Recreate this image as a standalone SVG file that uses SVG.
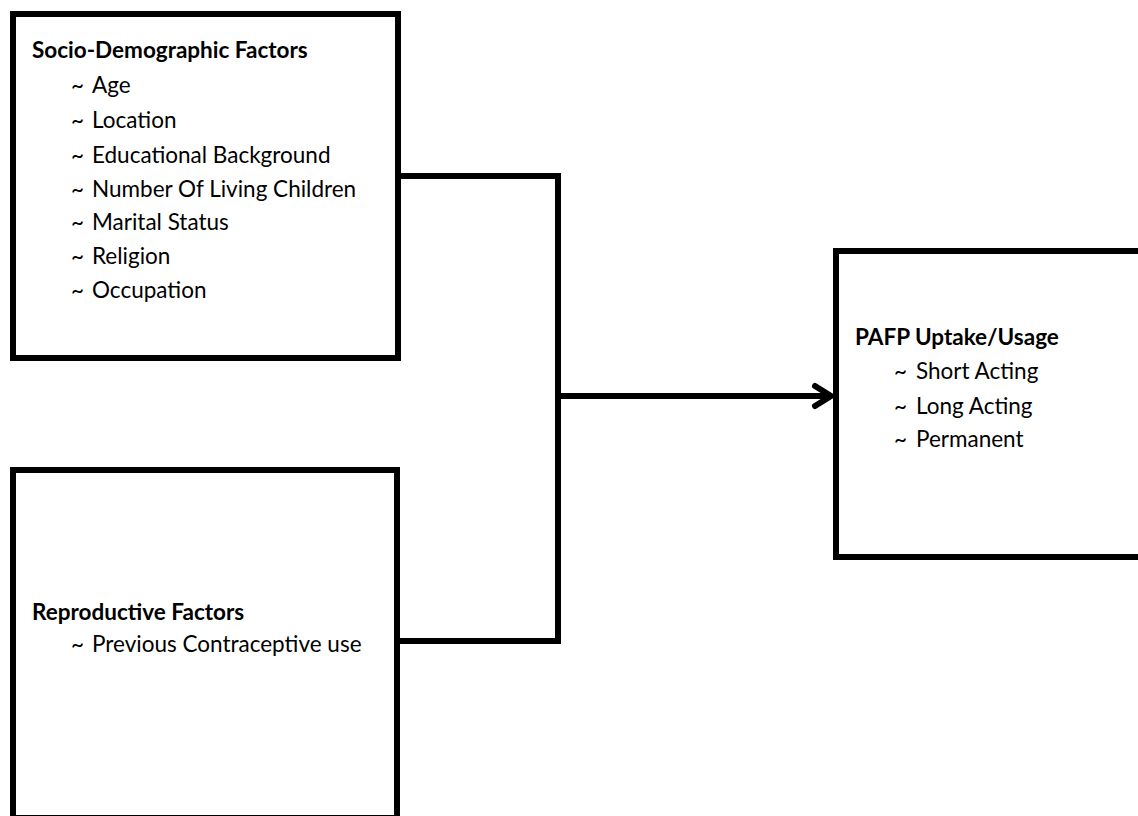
<svg xmlns="http://www.w3.org/2000/svg" width="1138" height="816" viewBox="0 0 1138 816">
  <style>
    .box { fill: #ffffff; stroke: #000000; stroke-width: 6; }
    .conn { fill: none; stroke: #000000; stroke-width: 6; stroke-linejoin: miter; }
    .title { font-family: Lato, "Liberation Sans", sans-serif; font-weight: bold; font-size: 22.5px; fill: #000000; }
    .item { font-family: Lato, "Liberation Sans", sans-serif; font-size: 22.5px; fill: #000000; }
  </style>
  <defs>
    <marker id="arrow" markerUnits="userSpaceOnUse" markerWidth="30" markerHeight="30" refX="22" refY="15" orient="auto">
      <path d="M6,5 L22,15 L6,25" fill="none" stroke="#000000" stroke-width="6" stroke-linecap="round" stroke-linejoin="miter"/>
    </marker>
  </defs>
  <rect width="1138" height="816" fill="#ffffff"/>

  <g id="connectors">
    <polyline class="conn" points="398,176 558,176 558,641 397,641"/>
    <line class="conn" x1="558" y1="396" x2="831" y2="396" marker-end="url(#arrow)"/>
  </g>

  <g id="socio-demographic">
    <rect class="box" x="13" y="14" width="385" height="344"/>
    <text class="title" x="32" y="58">Socio-Demographic Factors</text>
    <text class="item" y="93"><tspan x="71">~</tspan><tspan x="92">Age</tspan></text>
    <text class="item" y="128"><tspan x="71">~</tspan><tspan x="92">Location</tspan></text>
    <text class="item" y="163"><tspan x="71">~</tspan><tspan x="92">Educational Background</tspan></text>
    <text class="item" y="197"><tspan x="71">~</tspan><tspan x="92">Number Of Living Children</tspan></text>
    <text class="item" y="230"><tspan x="71">~</tspan><tspan x="92">Marital Status</tspan></text>
    <text class="item" y="264"><tspan x="71">~</tspan><tspan x="92">Religion</tspan></text>
    <text class="item" y="298"><tspan x="71">~</tspan><tspan x="92">Occupation</tspan></text>
  </g>

  <g id="reproductive">
    <rect class="box" x="13" y="470" width="384" height="348"/>
    <text class="title" x="32" y="620">Reproductive Factors</text>
    <text class="item" y="652"><tspan x="71">~</tspan><tspan x="92">Previous Contraceptive use</tspan></text>
  </g>

  <g id="pafp">
    <rect class="box" x="836" y="251" width="320" height="306"/>
    <text class="title" x="855" y="345">PAFP Uptake/Usage</text>
    <text class="item" y="379"><tspan x="894">~</tspan><tspan x="916">Short Acting</tspan></text>
    <text class="item" y="414"><tspan x="894">~</tspan><tspan x="916">Long Acting</tspan></text>
    <text class="item" y="447"><tspan x="894">~</tspan><tspan x="916">Permanent</tspan></text>
  </g>
</svg>
